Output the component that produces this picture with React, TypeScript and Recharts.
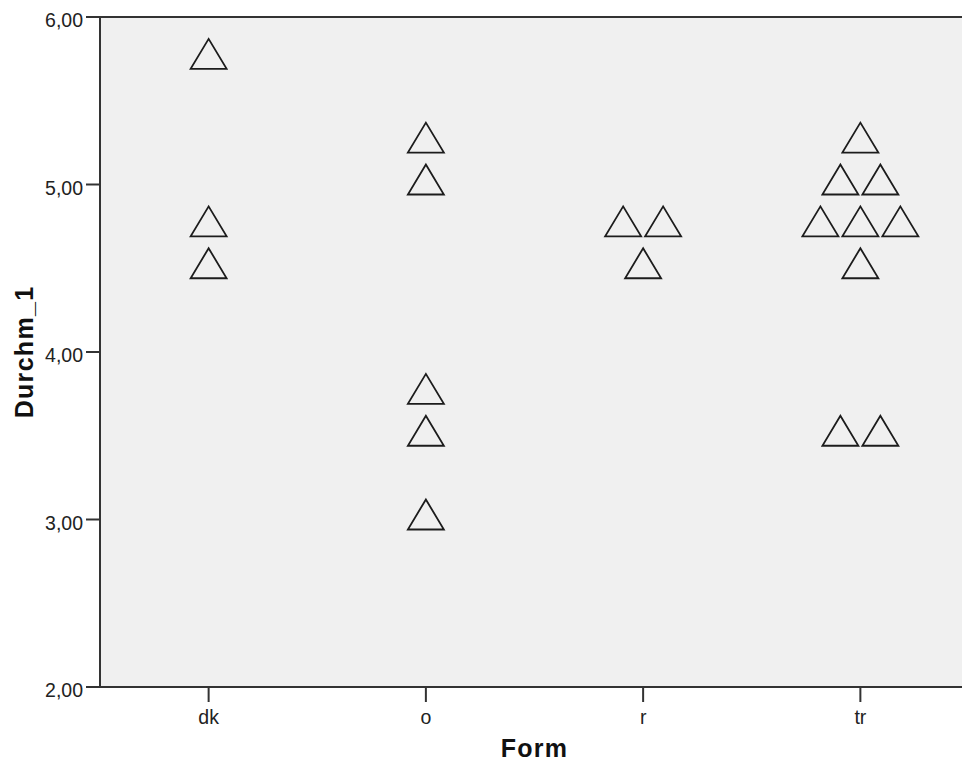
import React from 'react'
import {
  ScatterChart,
  Scatter,
  XAxis,
  YAxis,
  CartesianGrid,
  ReferenceLine,
} from 'recharts'

// categories and the Durchm_1 values read per category
const categories = ['dk', 'o', 'r', 'tr']
const dkValues = [5.75, 4.75, 4.5]
const oValues = [5.25, 5.0, 3.75, 3.5, 3.0]
const rValues = [4.75, 4.75, 4.5]
const trValues = [5.25, 5.0, 5.0, 4.75, 4.75, 4.75, 4.5, 3.5, 3.5]
const yTicks = [2, 3, 4, 5, 6]

const FONT = '"Liberation Sans", Arial, sans-serif'
const AXIS = '#333333'
const DODGE_STEP = 0.092 // about half a marker width, in category units

// stack equal values side by side like SPSS does
function dodge(values: number[], catIndex: number) {
  const counts: Record<string, number> = {}
  values.forEach((v) => (counts[v] = (counts[v] || 0) + 1))
  const seen: Record<string, number> = {}
  return values.map((v) => {
    const n = counts[v]
    const k = seen[v] || 0
    seen[v] = k + 1
    const slot = -(n - 1) + 2 * k
    return { x: catIndex + slot * DODGE_STEP, y: v }
  })
}

const points = [dkValues, oValues, rValues, trValues].flatMap((vals, i) => dodge(vals, i + 1))

const Triangle = (props: any) => {
  const { cx, cy } = props
  if (cx == null || cy == null) return null
  const d = `M${cx},${cy - 20} L${cx + 18},${cy + 10} L${cx - 18},${cy + 10} Z`
  return <path d={d} fill="none" stroke="#1c1c1c" strokeWidth={1.8} strokeLinejoin="miter" />
}

const XTick = (props: any) => {
  const { x, y, payload } = props
  return (
    <text x={x} y={y + 20} textAnchor="middle" fontSize={19.5} fontFamily={FONT} fill="#222">
      {categories[payload.value - 1]}
    </text>
  )
}

const YTick = (props: any) => {
  const { x, y, payload } = props
  return (
    <text x={x} y={y + 10} textAnchor="end" fontSize={19.5} fontFamily={FONT} fill="#222">
      {payload.value.toFixed(2).replace('.', ',')}
    </text>
  )
}

export default function App() {
  return (
    <div style={{ position: 'absolute', left: 0, top: 0, width: 962, height: 769, overflow: 'hidden', background: '#fff' }}>
      <ScatterChart width={970} height={769} margin={{ top: 17, right: 1, left: 0, bottom: 0 }}>
        <CartesianGrid horizontal={false} vertical={false} fill="#F0F0F0" />
        <XAxis
          type="number"
          dataKey="x"
          domain={[0.5, 4.5]}
          ticks={[1, 2, 3, 4]}
          allowDataOverflow
          height={82}
          tickSize={15}
          tick={<XTick />}
          axisLine={{ stroke: AXIS, strokeWidth: 2 }}
          tickLine={{ stroke: AXIS, strokeWidth: 2 }}
          label={{
            content: (p: any) => {
              const vb = p.viewBox
              return (
                <text x={vb.x + vb.width / 2} y={757} textAnchor="middle" fontSize={25} fontWeight="bold" letterSpacing={1.3} fontFamily={FONT} fill="#111">
                  Form
                </text>
              )
            },
          }}
        />
        <YAxis
          type="number"
          dataKey="y"
          domain={[2, 6]}
          ticks={yTicks}
          allowDataOverflow
          width={100}
          tickSize={14}
          tickMargin={3}
          tick={<YTick />}
          axisLine={{ stroke: AXIS, strokeWidth: 2 }}
          tickLine={{ stroke: AXIS, strokeWidth: 2 }}
          label={{
            content: (p: any) => {
              const vb = p.viewBox
              const cy = vb.y + vb.height / 2
              return (
                <text x={33} y={cy} transform={`rotate(-90, 33, ${cy})`} textAnchor="middle" fontSize={25} fontWeight="bold" letterSpacing={1.3} fontFamily={FONT} fill="#111">
                  Durchm_1
                </text>
              )
            },
          }}
        />
        <ReferenceLine y={6} stroke={AXIS} strokeWidth={2} ifOverflow="visible" />
        <Scatter data={points} shape={<Triangle />} isAnimationActive={false} />
      </ScatterChart>
    </div>
  )
}
